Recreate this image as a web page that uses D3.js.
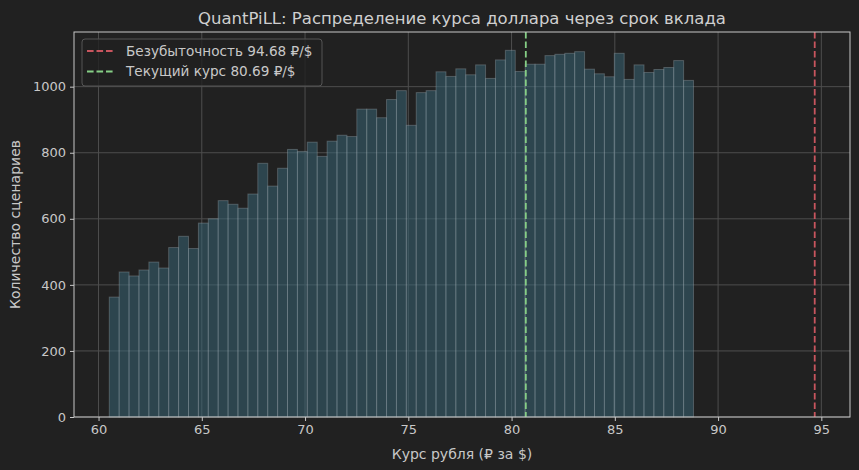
<!DOCTYPE html>
<html>
<head>
<meta charset="utf-8">
<script src="https://cdn.jsdelivr.net/npm/d3@7"></script>
<style>
  body { margin: 0; background: #212121; }
  svg { display: block; font-family: "DejaVu Sans", sans-serif; }
</style>
</head>
<body>
<div id="chart"></div>
<script>
// histogram counts, 59 bins
const counts = [363, 439, 427, 445, 469, 451, 513, 547, 510, 587, 600, 655,
  644, 632, 675, 768, 699, 753, 810, 804, 832, 789, 835, 853,
  849, 932, 932, 906, 961, 988, 883, 982, 988, 1045, 1031, 1054,
  1036, 1066, 1025, 1081, 1110, 1046, 1068, 1068, 1094, 1098, 1101, 1106,
  1053, 1039, 1030, 1101, 1022, 1066, 1043, 1052, 1058, 1079, 1019];
const binStart = 60.52;
const binEnd = 88.81;
const xTicks = [60, 65, 70, 75, 80, 85, 90, 95];
const yTicks = [0, 200, 400, 600, 800, 1000];
const refLines = [
  { value: 94.68, label: "Безубыточность 94.68 ₽/$", color: "#c8555e" },
  { value: 80.69, label: "Текущий курс 80.69 ₽/$", color: "#86cf86" }
];

const width = 859, height = 470;
const margin = { top: 32, right: 9, bottom: 53, left: 74 };
const w = width - margin.left - margin.right;
const h = height - margin.top - margin.bottom;

const binW = (binEnd - binStart) / counts.length;
const bins = counts.map((c, i) => ({ x0: binStart + i * binW, x1: binStart + (i + 1) * binW, n: c }));

// matplotlib style 5% margins
const xMin = binStart, xMax = d3.max(refLines, d => d.value);
const pad = (xMax - xMin) * 0.05;
const x = d3.scaleLinear().domain([xMin - pad, xMax + pad]).range([0, w]);
const y = d3.scaleLinear().domain([0, d3.max(counts) * 1.05]).range([h, 0]);

const svg = d3.select("#chart").append("svg")
  .attr("width", width).attr("height", height);
svg.append("rect").attr("width", width).attr("height", height).attr("fill", "#212121");

const g = svg.append("g").attr("transform", `translate(${margin.left},${margin.top})`);

// grid
g.append("g").selectAll("line").data(xTicks).join("line")
  .attr("x1", d => x(d)).attr("x2", d => x(d)).attr("y1", 0).attr("y2", h)
  .attr("stroke", "#4e4e4e").attr("stroke-width", 1);
g.append("g").selectAll("line").data(yTicks).join("line")
  .attr("x1", 0).attr("x2", w).attr("y1", d => y(d)).attr("y2", d => y(d))
  .attr("stroke", "#4e4e4e").attr("stroke-width", 1);

// bars
g.append("g").selectAll("rect").data(bins).join("rect")
  .attr("x", d => x(d.x0))
  .attr("y", d => y(d.n))
  .attr("width", d => x(d.x1) - x(d.x0))
  .attr("height", d => h - y(d.n))
  .attr("fill", "rgb(56,100,116)")
  .attr("fill-opacity", 0.55)
  .attr("stroke", "rgba(180,190,195,0.3)")
  .attr("stroke-width", 1);

// reference lines
g.append("g").selectAll("line").data(refLines).join("line")
  .attr("x1", d => x(d.value)).attr("x2", d => x(d.value))
  .attr("y1", 0).attr("y2", h)
  .attr("stroke", d => d.color).attr("stroke-width", 1.8)
  .attr("stroke-dasharray", "6.6,2.9");

// axes
const xAxis = g.append("g").attr("transform", `translate(0,${h})`)
  .call(d3.axisBottom(x).tickValues(xTicks).tickSize(4).tickPadding(4).tickFormat(d3.format("d")));
const yAxis = g.append("g")
  .call(d3.axisLeft(y).tickValues(yTicks).tickSize(4).tickPadding(4).tickFormat(d3.format("d")));
[xAxis, yAxis].forEach(a => {
  a.select(".domain").remove();
  a.selectAll("line").attr("stroke", "#c8c8c8");
  a.selectAll("text").attr("fill", "#c8c8c8").style("font-size", "13px")
    .style("font-family", "DejaVu Sans, sans-serif");
});

// spines
g.append("rect").attr("width", w).attr("height", h)
  .attr("fill", "none").attr("stroke", "#c8c8c8").attr("stroke-width", 1);

// title and labels
svg.append("text").attr("x", margin.left + w / 2).attr("y", 24)
  .attr("text-anchor", "middle").attr("fill", "#cfcfcf").style("font-size", "16.5px")
  .text("QuantPiLL: Распределение курса доллара через срок вклада");
svg.append("text").attr("x", margin.left + w / 2).attr("y", 459)
  .attr("text-anchor", "middle").attr("fill", "#c8c8c8").style("font-size", "14px")
  .text("Курс рубля (₽ за $)");
svg.append("text")
  .attr("transform", `translate(20,${margin.top + h / 2}) rotate(-90)`)
  .attr("text-anchor", "middle").attr("fill", "#c8c8c8").style("font-size", "14px")
  .text("Количество сценариев");

// legend
const lg = g.append("g").attr("transform", "translate(8,7)");
lg.append("rect").attr("width", 240).attr("height", 47).attr("rx", 3)
  .attr("fill", "#212121").attr("fill-opacity", 0.8)
  .attr("stroke", "#555").attr("stroke-width", 1);
const items = lg.selectAll("g.item").data(refLines).join("g")
  .attr("transform", (d, i) => `translate(0,${12 + i * 20.5})`);
items.append("line").attr("x1", 5).attr("x2", 33).attr("y1", 0).attr("y2", 0)
  .attr("stroke", d => d.color).attr("stroke-width", 1.8)
  .attr("stroke-dasharray", "6.6,2.9");
items.append("text").attr("x", 44).attr("y", 0).attr("dy", "0.35em")
  .attr("fill", "#c8c8c8").style("font-size", "13.6px")
  .text(d => d.label);
</script>
</body>
</html>
